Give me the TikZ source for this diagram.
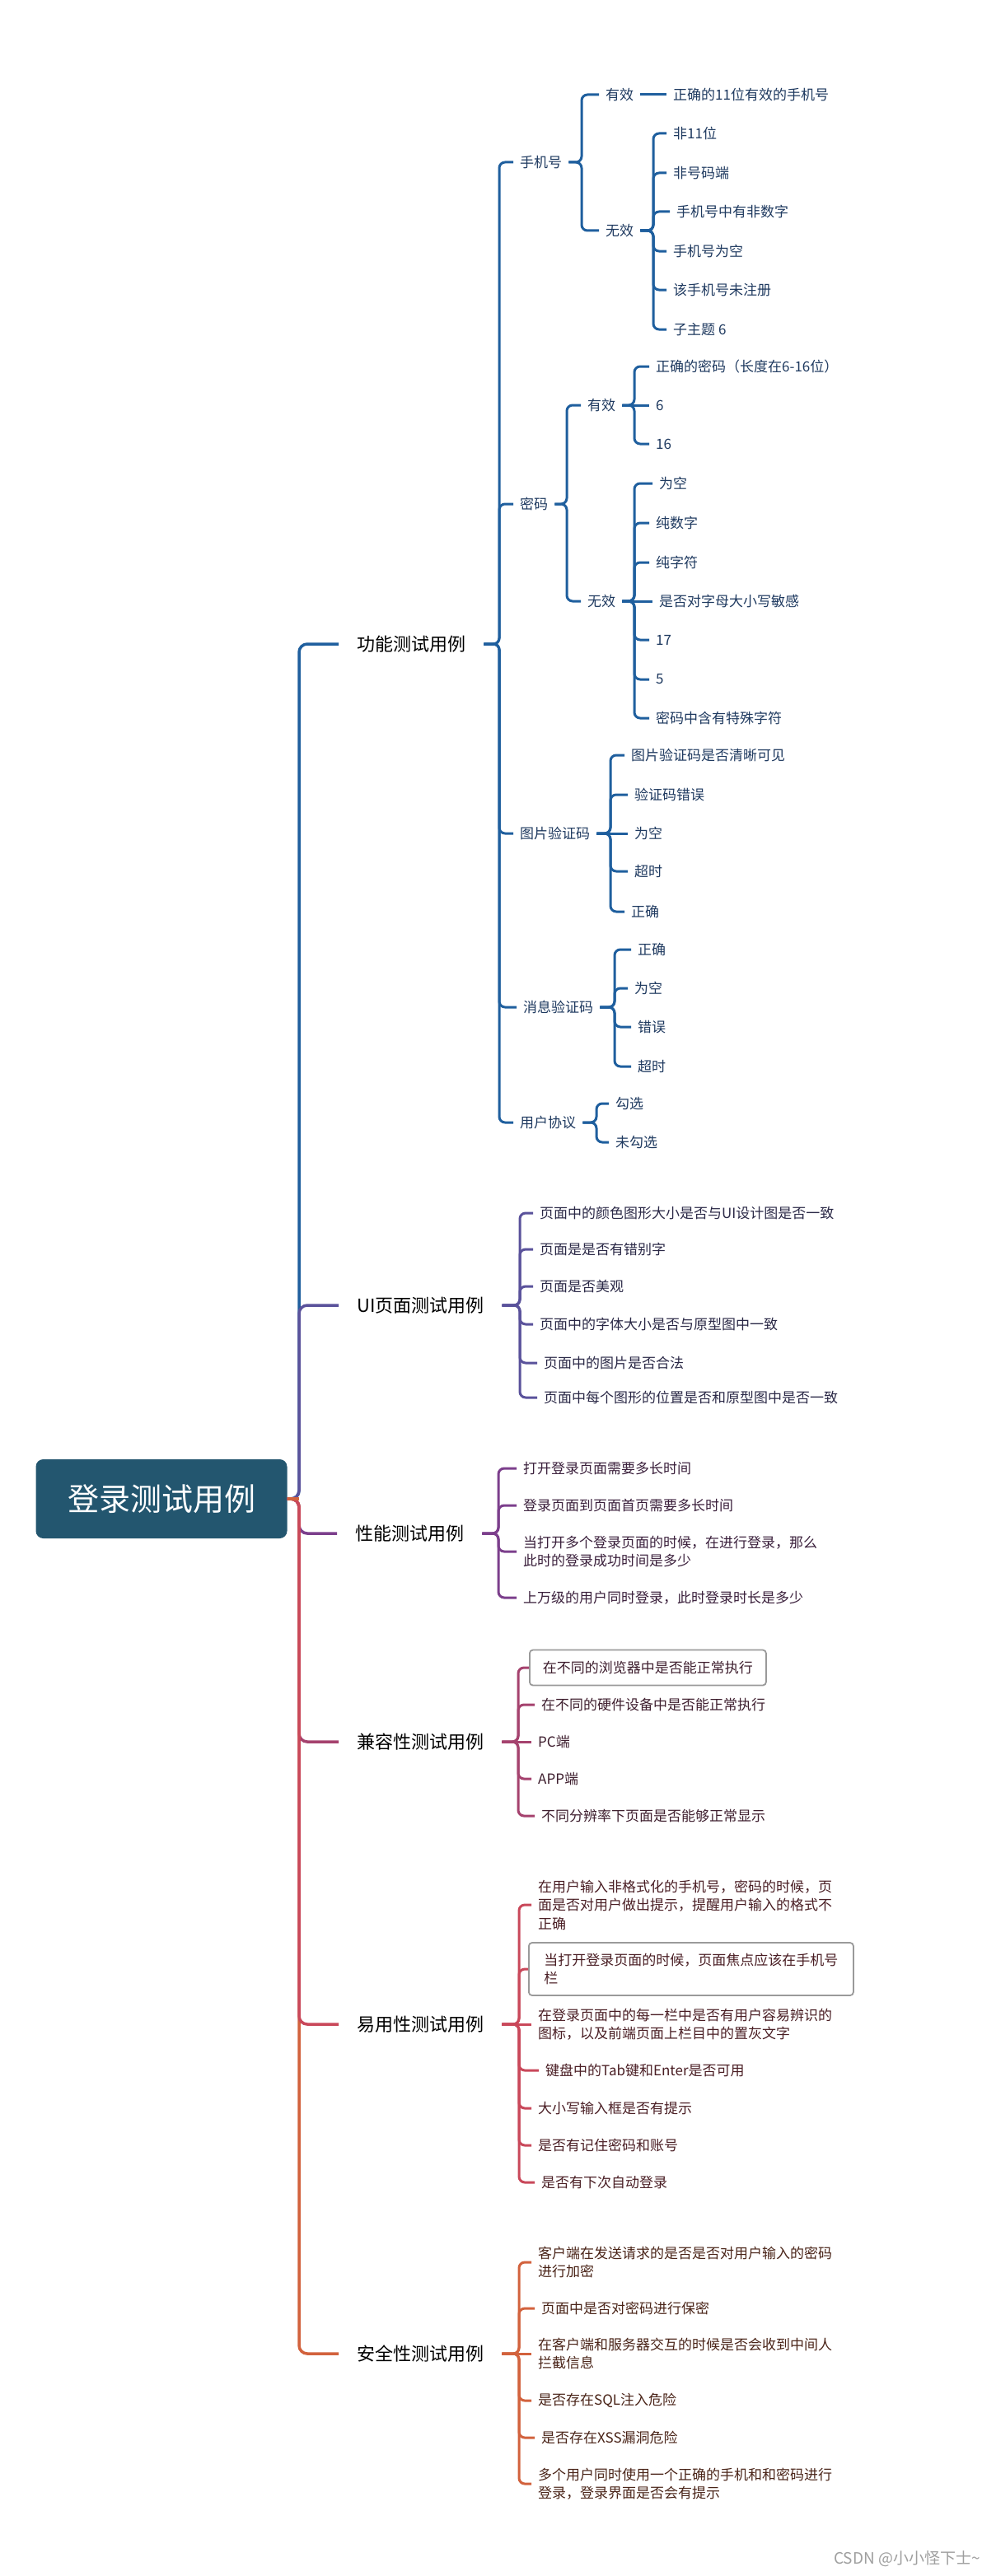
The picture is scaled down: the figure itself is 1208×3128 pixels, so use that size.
\documentclass[tikz,border=0pt]{standalone}
\usepackage{fontspec}
\setmainfont{Noto Sans CJK SC}
\definecolor{cF}{HTML}{1F5F9E}
\definecolor{cU}{HTML}{5A529B}
\definecolor{cS}{HTML}{7C3F8C}
\definecolor{cC}{HTML}{A5426E}
\definecolor{cE}{HTML}{C9485A}
\definecolor{cA}{HTML}{D2623D}
\definecolor{tF}{HTML}{1F3A60}
\definecolor{tU}{HTML}{2B2947}
\definecolor{tS}{HTML}{3A1F3B}
\definecolor{tC}{HTML}{3E1E2E}
\definecolor{tE}{HTML}{4A1E24}
\definecolor{tA}{HTML}{4A2418}
\definecolor{rootc}{HTML}{23566F}
\definecolor{boxgray}{HTML}{9A9A9A}
\tikzset{
 base/.style={font=\fontsize{17}{22.5}\selectfont, inner xsep=8pt, inner ysep=2pt, anchor=west, align=left},
 mainl/.style={font=\fontsize{22}{26}\selectfont, inner xsep=22pt, inner ysep=3pt, anchor=west, text=black},
 rootbox/.style={fill=rootc, rounded corners=9pt, minimum width=305pt, minimum height=96pt, text=white, font=\fontsize{38}{40}\selectfont, inner sep=0pt, anchor=center},
 boxn/.style={draw=boxgray, line width=1.8pt, rounded corners=4pt, inner xsep=13pt},
 lnk/.style={line width=3pt, rounded corners=7pt},
 trunk/.style={line width=3.5pt, rounded corners=10pt},
}
\newcommand\mmlink[4]{\draw[lnk,#1] (#2.east) -- (#2.east -| #3) |- (#4.west);}
\newcommand\mmstraight[3]{\draw[lnk,#1] (#2.east) -- (#3.west);}
\begin{document}
\begin{tikzpicture}[x=1pt,y=-1pt]
\fill[white] (0,0) rectangle (1208,3128);
\useasboundingbox (0,0) rectangle (1208,3128);

% root and main branches
\node[rootbox] (root) at (196,1820) {登录测试用例};
\coordinate (vT) at (363,0);
\node[mainl] (F) at (411,782) {功能测试用例};
\node[mainl] (U) at (411,1585) {UI页面测试用例};
\node[mainl] (S) at (409,1862) {性能测试用例};
\node[mainl] (C) at (411,2115) {兼容性测试用例};
\node[mainl] (E) at (411,2458) {易用性测试用例};
\node[mainl] (A) at (411,2858) {安全性测试用例};

\draw[trunk,cF] (root.east) -- (root.east -| vT) |- (F.west);
\draw[trunk,cU] (root.east) -- (root.east -| vT) |- (U.west);
\draw[trunk,cS] (root.east) -- (root.east -| vT) |- (S.west);
\draw[trunk,cC] (root.east) -- (root.east -| vT) |- (C.west);
\draw[trunk,cA] (root.east) -- (root.east -| vT) |- (A.west);
\draw[trunk,cE] (root.east) -- (root.east -| vT) |- (E.west);
\draw[line width=3.5pt,cA] (root.east) -- (root.east -| vT);

% ===== 功能测试用例 =====
\begin{scope}[every node/.style={base,text=tF}]
\coordinate (vF) at (606,0);
\node (P1) at (623,197) {手机号};
\node (P2) at (623,612) {密码};
\node (P3) at (623,1012) {图片验证码};
\node (P4) at (627,1223) {消息验证码};
\node (P5) at (623,1363) {用户协议};
\foreach \p in {P1,P2,P3,P4,P5} {\mmlink{cF}{F}{vF}{\p}}

% 手机号
\coordinate (vP1) at (706,0);
\node (P1a) at (727,115) {有效};
\node (P1b) at (727,280) {无效};
\mmlink{cF}{P1}{vP1}{P1a}
\mmlink{cF}{P1}{vP1}{P1b}
\node (P1a1) at (809,115) {正确的11位有效的手机号};
\mmstraight{cF}{P1a}{P1a1}
\coordinate (vP1b) at (793,0);
\node (P1b1) at (809,162) {非11位};
\node (P1b2) at (809,210) {非号码端};
\node (P1b3) at (813,257) {手机号中有非数字};
\node (P1b4) at (809,305) {手机号为空};
\node (P1b5) at (809,352) {该手机号未注册};
\node (P1b6) at (809,400) {子主题 6};
\foreach \p in {P1b1,P1b2,P1b3,P1b4,P1b5,P1b6} {\mmlink{cF}{P1b}{vP1b}{\p}}

% 密码
\coordinate (vP2) at (688,0);
\node (P2a) at (705,492) {有效};
\node (P2b) at (705,730) {无效};
\mmlink{cF}{P2}{vP2}{P2a}
\mmlink{cF}{P2}{vP2}{P2b}
\coordinate (vP2a) at (770,0);
\node (P2a1) at (788,445) {正确的密码（长度在6-16位）};
\node (P2a2) at (788,492) {6};
\node (P2a3) at (788,539) {16};
\mmlink{cF}{P2a}{vP2a}{P2a1}
\mmstraight{cF}{P2a}{P2a2}
\mmlink{cF}{P2a}{vP2a}{P2a3}
\node (P2b1) at (792,587) {为空};
\node (P2b2) at (788,635) {纯数字};
\node (P2b3) at (788,683) {纯字符};
\node (P2b4) at (792,730) {是否对字母大小写敏感};
\node (P2b5) at (788,777) {17};
\node (P2b6) at (788,825) {5};
\node (P2b7) at (788,872) {密码中含有特殊字符};
\foreach \p in {P2b1,P2b2,P2b3,P2b5,P2b6,P2b7} {\mmlink{cF}{P2b}{vP2a}{\p}}
\mmstraight{cF}{P2b}{P2b4}

% 图片验证码
\coordinate (vP3) at (741,0);
\node (P31) at (758,917) {图片验证码是否清晰可见};
\node (P32) at (762,965) {验证码错误};
\node (P33) at (762,1012) {为空};
\node (P34) at (762,1058) {超时};
\node (P35) at (758,1107) {正确};
\foreach \p in {P31,P32,P34,P35} {\mmlink{cF}{P3}{vP3}{\p}}
\mmstraight{cF}{P3}{P33}

% 消息验证码
\coordinate (vP4) at (746,0);
\node (P41) at (766,1153) {正确};
\node (P42) at (762,1200) {为空};
\node (P43) at (766,1247) {错误};
\node (P44) at (766,1295) {超时};
\foreach \p in {P41,P42,P43,P44} {\mmlink{cF}{P4}{vP4}{\p}}

% 用户协议
\coordinate (vP5) at (724,0);
\node (P51) at (739,1340) {勾选};
\node (P52) at (739,1387) {未勾选};
\foreach \p in {P51,P52} {\mmlink{cF}{P5}{vP5}{\p}}
\end{scope}

% ===== UI页面测试用例 =====
\begin{scope}[every node/.style={base,text=tU}]
\coordinate (vU) at (631,0);
\node (U1) at (647,1473) {页面中的颜色图形大小是否与UI设计图是否一致};
\node (U2) at (647,1517) {页面是是否有错别字};
\node (U3) at (647,1562) {页面是否美观};
\node (U4) at (647,1608) {页面中的字体大小是否与原型图中一致};
\node (U5) at (652,1655) {页面中的图片是否合法};
\node (U6) at (652,1697) {页面中每个图形的位置是否和原型图中是否一致};
\foreach \p in {U1,U2,U3,U4,U5,U6} {\mmlink{cU}{U}{vU}{\p}}
\end{scope}

% ===== 性能测试用例 =====
\begin{scope}[every node/.style={base,text=tS}]
\coordinate (vS) at (605,0);
\node (S1) at (627,1783) {打开登录页面需要多长时间};
\node (S2) at (627,1828) {登录页面到页面首页需要多长时间};
\node (S3) at (627,1884) {当打开多个登录页面的时候，在进行登录，那么\\此时的登录成功时间是多少};
\node (S4) at (627,1940) {上万级的用户同时登录，此时登录时长是多少};
\foreach \p in {S1,S2,S3,S4} {\mmlink{cS}{S}{vS}{\p}}
\end{scope}

% ===== 兼容性测试用例 =====
\begin{scope}[every node/.style={base,text=tC}]
\coordinate (vC) at (629,0);
\node[boxn, minimum width=287pt, minimum height=43pt] (C1) at (642,2025) {在不同的浏览器中是否能正常执行};
\node (C2) at (649,2070) {在不同的硬件设备中是否能正常执行};
\node (C3) at (645,2115) {PC端};
\node (C4) at (645,2160) {APP端};
\node (C5) at (649,2205) {不同分辨率下页面是否能够正常显示};
\foreach \p in {C1,C2,C4,C5} {\mmlink{cC}{C}{vC}{\p}}
\mmstraight{cC}{C}{C3}
\end{scope}

% ===== 安全性测试用例 =====
\begin{scope}[every node/.style={base,text=tA}]
\coordinate (vA) at (630,0);
\node (A1) at (645,2747) {客户端在发送请求的是否是否对用户输入的密码\\进行加密};
\node (A2) at (649,2803) {页面中是否对密码进行保密};
\node (A3) at (645,2858) {在客户端和服务器交互的时候是否会收到中间人\\拦截信息};
\node (A4) at (645,2915) {是否存在SQL注入危险};
\node (A5) at (649,2960) {是否存在XSS漏洞危险};
\node (A6) at (645,3016) {多个用户同时使用一个正确的手机和和密码进行\\登录，登录界面是否会有提示};
\foreach \p in {A1,A2,A4,A5,A6} {\mmlink{cA}{A}{vA}{\p}}
\mmstraight{cA}{A}{A3}
\end{scope}

% ===== 易用性测试用例 =====
\begin{scope}[every node/.style={base,text=tE}]
\coordinate (vE) at (630,0);
\node (E1) at (645,2313) {在用户输入非格式化的手机号，密码的时候，页\\面是否对用户做出提示，提醒用户输入的格式不\\正确};
\node[boxn, minimum width=394pt, minimum height=64pt, inner xsep=12pt] (E2) at (641,2391) {当打开登录页面的时候，页面焦点应该在手机号\\栏};
\node (E3) at (645,2458) {在登录页面中的每一栏中是否有用户容易辨识的\\图标，以及前端页面上栏目中的置灰文字};
\node (E4) at (654,2514) {键盘中的Tab键和Enter是否可用};
\node (E5) at (645,2560) {大小写输入框是否有提示};
\node (E6) at (645,2605) {是否有记住密码和账号};
\node (E7) at (649,2650) {是否有下次自动登录};
\foreach \p in {E1,E2,E4,E5,E6,E7} {\mmlink{cE}{E}{vE}{\p}}
\mmstraight{cE}{E}{E3}
\end{scope}

% watermark
\node[font=\fontsize{19}{19}\selectfont, text=gray!75, anchor=east, inner sep=0pt] (wm) at (1190,3107) {CSDN @小小怪下士\textasciitilde};
\end{tikzpicture}
\end{document}
